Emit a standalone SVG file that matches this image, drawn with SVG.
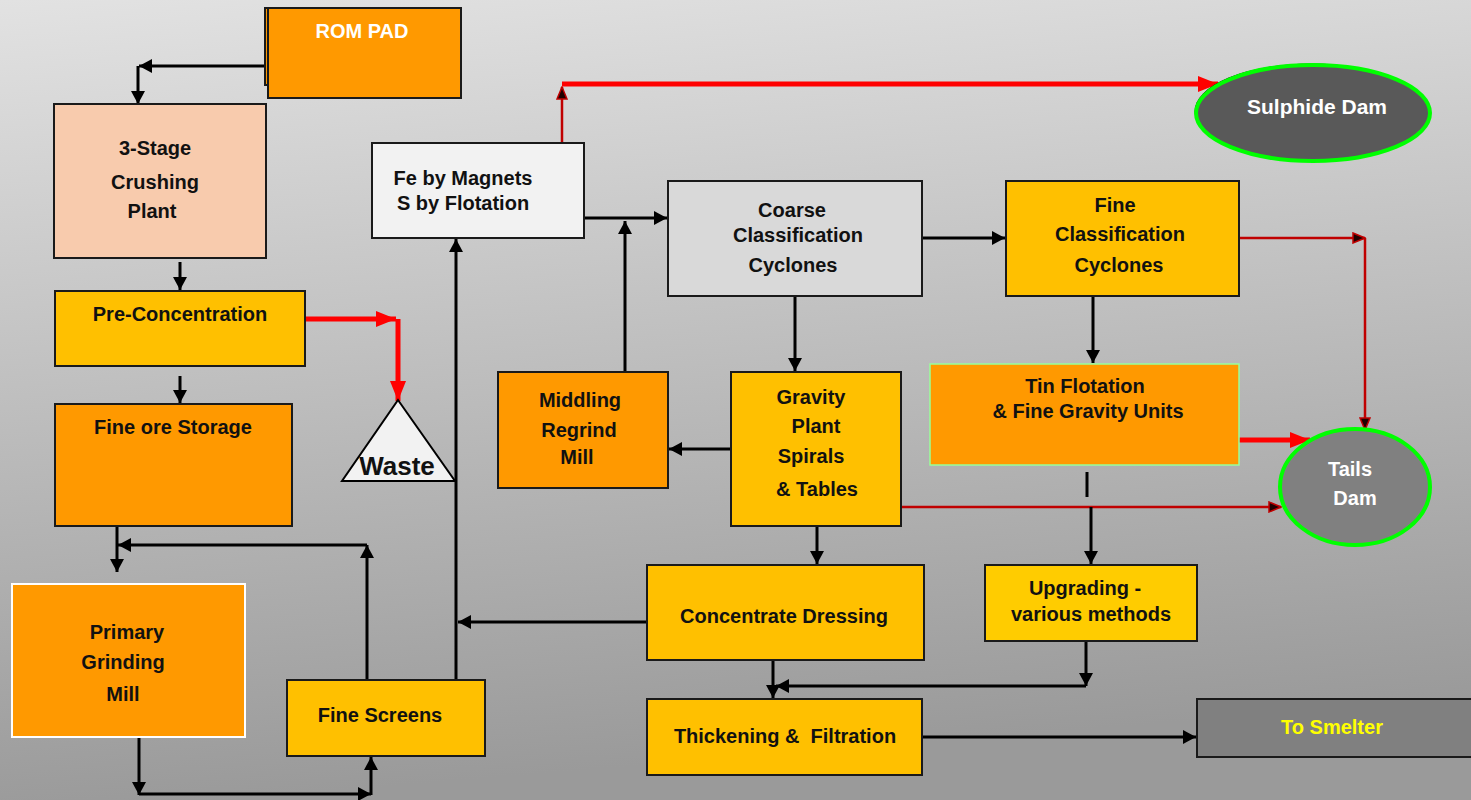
<svg xmlns="http://www.w3.org/2000/svg" width="1471" height="800" viewBox="0 0 1471 800">
<defs>
<linearGradient id="bg" x1="0" y1="0" x2="0.15" y2="1">
<stop offset="0" stop-color="#e2e2e2"/>
<stop offset="1" stop-color="#9a9a9a"/>
</linearGradient>
<marker id="ab" viewBox="0 0 13 14" refX="13" refY="7" markerWidth="13" markerHeight="14" markerUnits="userSpaceOnUse" orient="auto">
<path d="M0,0 L13,7 L0,14 Z" fill="#000"/>
</marker>
<marker id="ar" viewBox="0 0 20 16" refX="20" refY="8" markerWidth="20" markerHeight="16" markerUnits="userSpaceOnUse" orient="auto">
<path d="M0,0 L20,8 L0,16 Z" fill="#ff0000"/>
</marker>
<marker id="ad" viewBox="0 0 14 12" refX="13" refY="6" markerWidth="14" markerHeight="12" markerUnits="userSpaceOnUse" orient="auto">
<path d="M1,1 L13,6 L1,11 Z" fill="#200000" stroke="#c00000" stroke-width="1.5"/>
</marker>
</defs>
<style>
.box{stroke:#1a1a1a;stroke-width:2}
.t{font-family:"Liberation Sans",Arial,sans-serif;font-weight:bold;font-size:20px;fill:#111;text-anchor:middle}
.w{fill:#fff}
.c{fill:none;stroke:#000;stroke-width:3}
.r{fill:none;stroke:#ff0000;stroke-width:5}
.d{fill:none;stroke:#c00000;stroke-width:2.5}
</style>
<rect width="1471" height="800" fill="url(#bg)"/>

<g id="connectors">
<path class="c" d="M268,66 H139" marker-end="url(#ab)"/>
<path class="c" d="M138,66 V104" marker-end="url(#ab)"/>
<path class="c" d="M180,262 V290" marker-end="url(#ab)"/>
<path class="r" d="M305,319 H396" marker-end="url(#ar)"/>
<path class="r" d="M398,319 V401" marker-end="url(#ar)"/>
<path class="c" d="M180,376 V403" marker-end="url(#ab)"/>
<path class="c" d="M117,517 V572" marker-end="url(#ab)"/>
<path class="c" d="M367,686 V545" marker-end="url(#ab)"/>
<path class="c" d="M367,545 H118" marker-end="url(#ab)"/>
<path class="c" d="M139,737 V795" marker-end="url(#ab)"/>
<path class="c" d="M139,794 H371" marker-end="url(#ab)"/>
<path class="c" d="M371,795 V757" marker-end="url(#ab)"/>
<path class="c" d="M456,680 V239" marker-end="url(#ab)"/>
<path class="c" d="M647,622 H458" marker-end="url(#ab)"/>
<path class="c" d="M584,218 H667" marker-end="url(#ab)"/>
<path class="c" d="M625,372 V221" marker-end="url(#ab)"/>
<path class="d" d="M562,143 V87" marker-end="url(#ad)"/>
<path class="r" d="M562,84 H1218" marker-end="url(#ar)"/>
<path class="c" d="M922,238 H1005" marker-end="url(#ab)"/>
<path class="c" d="M795,296 V371" marker-end="url(#ab)"/>
<path class="c" d="M1093,296 V363" marker-end="url(#ab)"/>
<path class="d" d="M1239,238 H1365" marker-end="url(#ad)"/>
<path class="d" d="M1365,238 V430" marker-end="url(#ad)"/>
<path class="r" d="M1238,440 H1310" marker-end="url(#ar)"/>
<path class="d" d="M901,507 H1281" marker-end="url(#ad)"/>
<path class="c" d="M731,449 H669" marker-end="url(#ab)"/>
<path class="c" d="M817,526 V564" marker-end="url(#ab)"/>
<path class="c" d="M1087,472 V497"/>
<path class="c" d="M1091,507 V564" marker-end="url(#ab)"/>
<path class="c" d="M773,660 V698" marker-end="url(#ab)"/>
<path class="c" d="M1086,641 V686" marker-end="url(#ab)"/>
<path class="c" d="M1086,686 H776" marker-end="url(#ab)"/>
<path class="c" d="M922,737 H1196" marker-end="url(#ab)"/>
</g>

<g id="rom-pad">
<rect class="box" x="265" y="8" width="190" height="77" fill="#ff9900"/>
<rect class="box" x="268" y="8" width="193" height="90" fill="#ff9900"/>
<text class="t w" x="362" y="38">ROM PAD</text>
</g>
<g id="crushing">
<rect class="box" x="54" y="104" width="212" height="154" fill="#f8cbad"/>
<text class="t" x="155" y="155">3-Stage</text>
<text class="t" x="155" y="189">Crushing</text>
<text class="t" x="152" y="218">Plant</text>
</g>
<g id="pre-concentration">
<rect class="box" x="55" y="291" width="250" height="75" fill="#ffc000"/>
<text class="t" x="180" y="321">Pre-Concentration</text>
</g>
<g id="waste">
<path d="M398,400 L455,481 L342,481 Z" fill="#f2f2f2" stroke="#000" stroke-width="2"/>
<text class="t" x="397" y="475" style="font-size:26px">Waste</text>
</g>
<g id="fine-ore-storage">
<rect class="box" x="55" y="404" width="237" height="122" fill="#ff9900"/>
<text class="t" x="173" y="434">Fine ore Storage</text>
</g>
<g id="primary-grinding">
<rect x="12" y="584" width="233" height="153" fill="#ff9900" stroke="#fff" stroke-width="2"/>
<text class="t" x="127" y="639">Primary</text>
<text class="t" x="123" y="669">Grinding</text>
<text class="t" x="123" y="701">Mill</text>
</g>
<g id="fine-screens">
<rect class="box" x="287" y="680" width="198" height="76" fill="#ffc000"/>
<text class="t" x="380" y="722">Fine Screens</text>
</g>
<g id="fe-magnets">
<rect class="box" x="372" y="143" width="212" height="95" fill="#f2f2f2"/>
<text class="t" x="463" y="185">Fe by Magnets</text>
<text class="t" x="463" y="210">S by Flotation</text>
</g>
<g id="sulphide-dam">
<ellipse cx="1311.5" cy="111.5" rx="117" ry="48" fill="#000"/>
<ellipse cx="1313" cy="113" rx="117" ry="48" fill="#595959" stroke="#00ff00" stroke-width="4"/>
<text class="t w" x="1317" y="114" style="font-size:21px">Sulphide Dam</text>
</g>
<g id="coarse-classification">
<rect class="box" x="668" y="181" width="254" height="115" fill="#d9d9d9"/>
<text class="t" x="792" y="217">Coarse</text>
<text class="t" x="798" y="242">Classification</text>
<text class="t" x="793" y="272">Cyclones</text>
</g>
<g id="fine-classification">
<rect class="box" x="1006" y="181" width="233" height="115" fill="#ffc000"/>
<text class="t" x="1115" y="212">Fine</text>
<text class="t" x="1120" y="241">Classification</text>
<text class="t" x="1119" y="272">Cyclones</text>
</g>
<g id="tin-flotation">
<rect x="930" y="364" width="309" height="101" fill="#ff9900" stroke="#99ff99" stroke-width="1.5"/>
<text class="t" x="1085" y="393">Tin Flotation</text>
<text class="t" x="1088" y="418">&amp; Fine Gravity Units</text>
</g>
<g id="tails-dam">
<ellipse cx="1355" cy="487" rx="75" ry="58" fill="#808080" stroke="#00ff00" stroke-width="4"/>
<text class="t w" x="1350" y="476">Tails</text>
<text class="t w" x="1355" y="505">Dam</text>
</g>
<g id="middling-regrind">
<rect class="box" x="498" y="372" width="170" height="116" fill="#ff9900"/>
<text class="t" x="580" y="407">Middling</text>
<text class="t" x="579" y="437">Regrind</text>
<text class="t" x="577" y="464">Mill</text>
</g>
<g id="gravity-plant">
<rect class="box" x="731" y="372" width="170" height="154" fill="#ffc000"/>
<text class="t" x="811" y="404">Gravity</text>
<text class="t" x="816" y="433">Plant</text>
<text class="t" x="811" y="463">Spirals</text>
<text class="t" x="817" y="496">&amp; Tables</text>
</g>
<g id="concentrate-dressing">
<rect class="box" x="647" y="565" width="277" height="95" fill="#ffc000"/>
<text class="t" x="784" y="623">Concentrate Dressing</text>
</g>
<g id="upgrading">
<rect class="box" x="985" y="565" width="212" height="76" fill="#ffcc00"/>
<text class="t" x="1085" y="595">Upgrading -</text>
<text class="t" x="1091" y="621">various methods</text>
</g>
<g id="thickening">
<rect class="box" x="647" y="699" width="275" height="76" fill="#ffc000"/>
<text class="t" x="785" y="743" xml:space="preserve">Thickening &amp;  Filtration</text>
</g>
<g id="to-smelter">
<rect class="box" x="1197" y="699" width="280" height="58" fill="#808080"/>
<text class="t" x="1332" y="734" style="fill:#ffff00">To Smelter</text>
</g>
</svg>
